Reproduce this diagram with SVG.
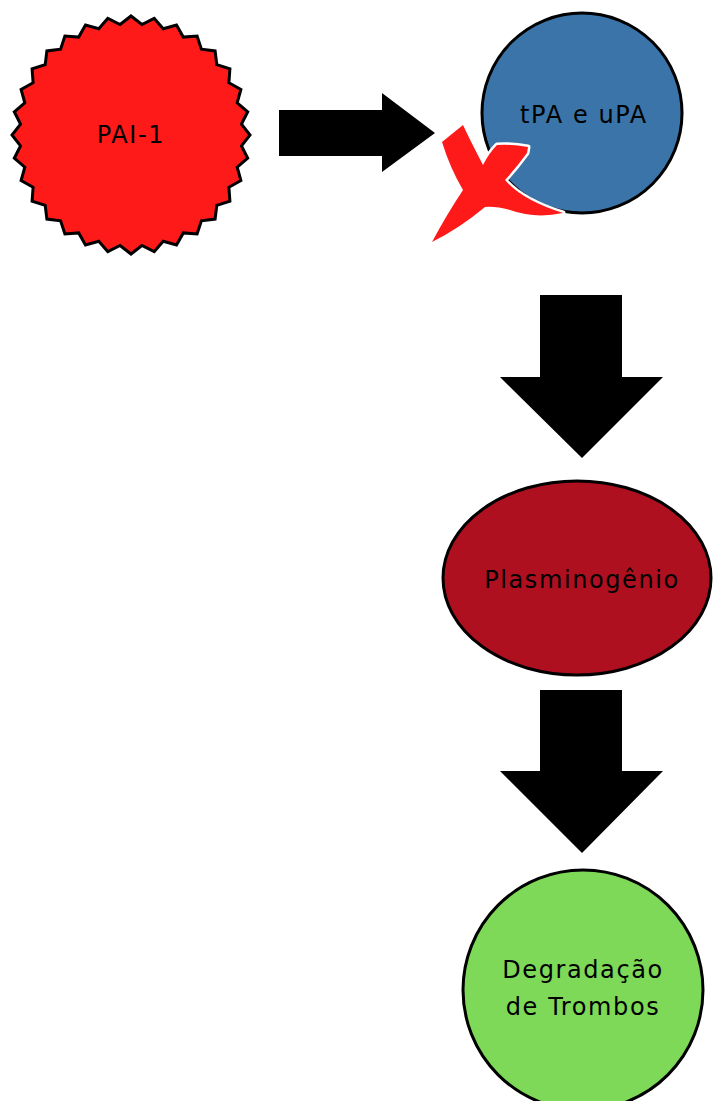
<svg xmlns="http://www.w3.org/2000/svg" width="713" height="1101" viewBox="0 0 713 1101">
  <style>
    .lbl { font-family: "DejaVu Sans", "Liberation Sans", sans-serif; font-size: 24px; letter-spacing: 1.6px; fill: #000; text-anchor: middle; }
    .outline { stroke: #000; stroke-width: 3; }
    .arrow { fill: #000; }
    .cross { fill: #ff1a1a; stroke: #fff; stroke-width: 5; stroke-linejoin: round; paint-order: stroke; }
  </style>
  <rect width="713" height="1101" fill="#fff"/>

  <!-- PAI-1: serrated seal -->
  <g id="pai1">
    <polygon class="outline" fill="#ff1a1a" transform="translate(131,135)" points="0,-119 10.9,-110.5 23.2,-116.7 32.2,-106.2 45.5,-109.9 52.3,-97.9 66.1,-98.9 70.4,-85.8 84.1,-84.1 85.8,-70.4 98.9,-66.1 97.9,-52.3 109.9,-45.5 106.2,-32.2 116.7,-23.2 110.5,-10.9 119,0 110.5,10.9 116.7,23.2 106.2,32.2 109.9,45.5 97.9,52.3 98.9,66.1 85.8,70.4 84.1,84.1 70.4,85.8 66.1,98.9 52.3,97.9 45.5,109.9 32.2,106.2 23.2,116.7 10.9,110.5 0,119 -10.9,110.5 -23.2,116.7 -32.2,106.2 -45.5,109.9 -52.3,97.9 -66.1,98.9 -70.4,85.8 -84.1,84.1 -85.8,70.4 -98.9,66.1 -97.9,52.3 -109.9,45.5 -106.2,32.2 -116.7,23.2 -110.5,10.9 -119,0 -110.5,-10.9 -116.7,-23.2 -106.2,-32.2 -109.9,-45.5 -97.9,-52.3 -98.9,-66.1 -85.8,-70.4 -84.1,-84.1 -70.4,-85.8 -66.1,-98.9 -52.3,-97.9 -45.5,-109.9 -32.2,-106.2 -23.2,-116.7 -10.9,-110.5"/>
    <text class="lbl" x="131" y="143">PAI-1</text>
  </g>

  <!-- tPA e uPA -->
  <g id="tpa">
    <ellipse class="outline" fill="#3a74a8" cx="582" cy="113" rx="100" ry="100"/>
    <text class="lbl" x="584" y="123">tPA e uPA</text>
  </g>

  <!-- inhibition mark: brushed red cross with a thin white halo -->
  <g id="inhibition">
    <path class="cross" d="M442,142 L463,125 Q470,140 483,165 Q489,153 497,145 Q512,144 528,147 L527,153 Q516,168 505,180 Q522,200 563,213 Q535,219 510,210 Q495,206 485,207 Q460,228 432,242 Q447,214 463,190 Q450,168 442,142 Z"/>
  </g>

  <!-- Plasminogênio -->
  <g id="plasminogenio">
    <ellipse class="outline" fill="#ae1020" cx="577" cy="578" rx="134" ry="97"/>
    <text class="lbl" x="582" y="588">Plasminogênio</text>
  </g>

  <!-- Degradação de Trombos -->
  <g id="degradacao">
    <ellipse class="outline" fill="#7dd957" cx="583" cy="990" rx="120" ry="120"/>
    <text class="lbl" x="583" y="978">Degradação</text>
    <text class="lbl" x="583" y="1015">de Trombos</text>
  </g>

  <!-- block arrows -->
  <g id="connectors">
    <polygon class="arrow" points="279,110 382,110 382,93 435,133 382,172 382,156 279,156"/>
    <polygon class="arrow" points="540,295 622,295 622,377 663,377 582,458 500,377 540,377"/>
    <polygon class="arrow" points="540,690 622,690 622,771 663,771 582,853 500,771 540,771"/>
  </g>
</svg>
